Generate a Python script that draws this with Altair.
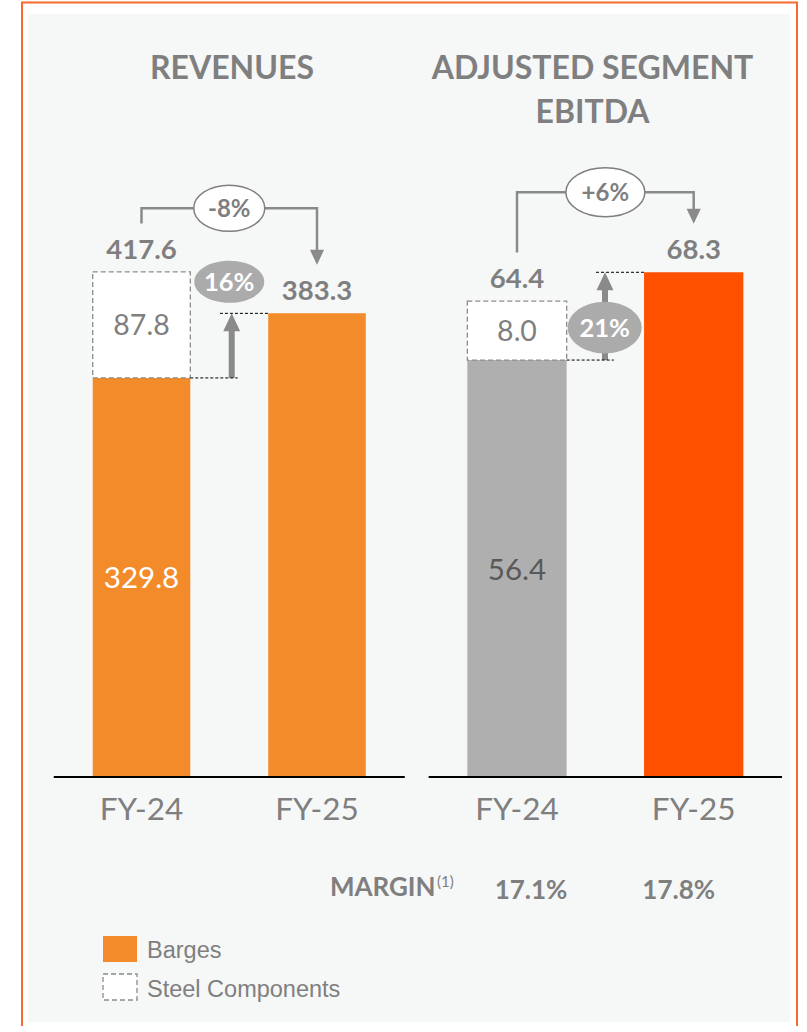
import altair as alt
import pandas as pd

# ---------------- data ----------------
categories = ["FY-24", "FY-25"]
rev_barges = [329.8, 383.3]
rev_steel = [87.8, 0.0]
ebitda_barges = [56.4, 68.3]
ebitda_steel = [8.0, 0.0]
margin_labels = ["17.1%", "17.8%"]
change_labels = ["-8%", "+6%"]            # revenues, EBITDA : FY-24 -> FY-25
barges_growth_labels = ["16%", "21%"]     # revenues, EBITDA : barges growth
panel_titles = ["REVENUES", "ADJUSTED SEGMENT\nEBITDA"]
legend_labels = ["Barges", "Steel Components"]
margin_title = "MARGIN"
margin_note = "(1)"

# ---------------- style ----------------
W, H = 807, 1026
BASE = 776
GREY_TXT = "#7F7F7F"
ARROW = "#8A8A8A"
ORANGE = "#F48B2A"
RED_OR = "#FF5000"
BAR_GREY = "#AFAFAF"
PANEL_BG = "#F6F7F7"
FRAME = "#F7692E"
FONT = "Lato"
LEGEND_FONT = "Liberation Sans"

REV_X0, REV_STEP, REV_PPU, REV_MAX = 141.5, 175.5, 1.207, 500
EB_X0, EB_STEP, EB_PPU, EB_MAX = 517.0, 176.7, 7.375, 80

REV_X = alt.Scale(domain=[0, 1], range=[REV_X0, REV_X0 + REV_STEP], nice=False, zero=False)
REV_Y = alt.Scale(domain=[0, REV_MAX], range=[BASE, BASE - REV_MAX * REV_PPU], nice=False)
EB_X = alt.Scale(domain=[0, 1], range=[EB_X0, EB_X0 + EB_STEP], nice=False, zero=False)
EB_Y = alt.Scale(domain=[0, EB_MAX], range=[BASE, BASE - EB_MAX * EB_PPU], nice=False)


def X(field, sc):
    return alt.X(field, type="quantitative", scale=sc, axis=None)


def Y(field, sc):
    return alt.Y(field, type="quantitative", scale=sc, axis=None)


def ellipse_path(r):
    k = 0.5523
    return (f"M-1,0C-1,{-k*r:.4f},{-k:.4f},{-r:.4f},0,{-r:.4f}"
            f"C{k:.4f},{-r:.4f},1,{-k*r:.4f},1,0"
            f"C1,{k*r:.4f},{k:.4f},{r:.4f},0,{r:.4f}"
            f"C{-k:.4f},{r:.4f},-1,{k*r:.4f},-1,0Z")


HEAD_UP = "M0,-1L0.94,1L-0.94,1Z"
HEAD_DOWN = "M0,1L0.94,-1L-0.94,-1Z"


def build_panel(p):
    xs, ys, ppu, hw = p["xs"], p["ys"], p["ppu"], p["hw"]

    def d(px):
        return px / ppu

    n = len(categories)
    barges, steel = p["barges"], p["steel"]
    totals = [b + s for b, s in zip(barges, steel)]
    df = pd.DataFrame({
        "cat": categories, "idx": list(range(n)), "barges": barges,
        "steel": steel, "total": totals, "color": p["colors"], "zero": [0.0] * n,
    })
    df["lo"] = df["idx"] - hw
    df["hi"] = df["idx"] + hw
    df["steel_mid"] = df["barges"] + df["steel"] / 2
    df["barges_mid"] = df["barges"] / 2
    df["total_txt"] = df["total"].map(lambda v: f"{v:.1f}")
    df["steel_txt"] = df["steel"].map(lambda v: f"{v:.1f}")
    df["barges_txt"] = df["barges"].map(lambda v: f"{v:.1f}")
    layers = []

    # axis base line
    base = pd.DataFrame({"a": [-0.5], "b": [1.5], "zero": [0.0]})
    layers.append(alt.Chart(base).mark_rule(color="black", strokeWidth=2, yOffset=1).encode(
        x=X("a", xs), x2="b", y=Y("zero", ys)))

    # bars
    layers.append(alt.Chart(df).mark_rect().encode(
        x=X("lo", xs), x2="hi", y=Y("zero", ys), y2="barges",
        fill=alt.Fill("color:N", scale=None)))

    # steel components (dashed box)
    sdf = df[df["steel"] > 0]
    layers.append(alt.Chart(sdf).mark_rect(
        fill="white", stroke="#8C8C8C", strokeDash=[5, 3], strokeWidth=1.3).encode(
        x=X("lo", xs), x2="hi", y=Y("barges", ys), y2="total"))
    layers.append(alt.Chart(sdf).mark_text(
        font=FONT, fontSize=28.5, fontWeight=400, color=GREY_TXT, baseline="alphabetic", dy=10).encode(
        x=X("idx", xs), y=Y("steel_mid", ys), text="steel_txt"))

    # inner label of FY-24 barges bar
    layers.append(alt.Chart(df.iloc[:1]).mark_text(
        font=FONT, fontSize=29.5, fontWeight=p["inner_weight"], color=p["inner_color"],
        baseline="alphabetic", dy=11.5).encode(
        x=X("idx", xs), y=Y("barges_mid", ys), text="barges_txt"))

    # totals
    layers.append(alt.Chart(df).mark_text(
        font=FONT, fontSize=27.5, fontWeight="bold", color=GREY_TXT, baseline="alphabetic", dy=-13).encode(
        x=X("idx", xs), y=Y("total", ys), text="total_txt"))

    # category labels
    layers.append(alt.Chart(df).mark_text(
        font=FONT, fontSize=31.5, fontWeight=400, color=GREY_TXT, baseline="alphabetic", dy=44).encode(
        x=X("idx", xs), y=Y("zero", ys), text="cat"))

    # bracket with change
    t0, t1 = totals[0], totals[1]
    top = max(totals) + d(p["level_off"])
    br = pd.DataFrame({"x": [0, 0, 1, 1],
                       "y": [t0 + d(48.5), top, top, t1 + d(48.5 + 14)],
                       "o": [0, 1, 2, 3]})
    layers.append(alt.Chart(br).mark_line(stroke=ARROW, strokeWidth=2.5, strokeJoin="miter").encode(
        x=X("x", xs), y=Y("y", ys), order="o:Q"))
    hd = pd.DataFrame({"x": [1], "y": [t1 + d(48.5 + 7.5)]})
    layers.append(alt.Chart(hd).mark_point(
        shape=HEAD_DOWN, size=15 ** 2, filled=True, fill=ARROW, strokeWidth=0, opacity=1).encode(
        x=X("x", xs), y=Y("y", ys)))
    ce = pd.DataFrame({"x": [0.5], "y": [top], "t": [p["change"]]})
    layers.append(alt.Chart(ce).mark_point(
        shape=ellipse_path(p["change_ratio"]), size=p["change_w"] ** 2, filled=True,
        fill="white", stroke=GREY_TXT, strokeWidth=1.5, opacity=1).encode(
        x=X("x", xs), y=Y("y", ys)))
    layers.append(alt.Chart(ce).mark_text(
        font=FONT, fontSize=24, fontWeight="bold", color=GREY_TXT, baseline="alphabetic", dy=8.5).encode(
        x=X("x", xs), y=Y("y", ys), text="t"))

    # barges growth arrow
    b0, b1 = barges[0], barges[1]
    xa = p["arrow_x"]
    sh = pd.DataFrame({"x": [xa], "y0": [b0], "y1": [b1 - d(17)]})
    layers.append(alt.Chart(sh).mark_rule(stroke=ARROW, strokeWidth=6).encode(
        x=X("x", xs), y=Y("y0", ys), y2="y1"))
    hu = pd.DataFrame({"x": [xa], "y": [b1 - d(9)]})
    layers.append(alt.Chart(hu).mark_point(
        shape=HEAD_UP, size=18 ** 2, filled=True, fill=ARROW, strokeWidth=0, opacity=1).encode(
        x=X("x", xs), y=Y("y", ys)))

    # dotted guides
    gd = pd.DataFrame({"a": [0.447, hw], "b": [1 - hw, 0.548], "y": [b1, b0]})
    layers.append(alt.Chart(gd).mark_rule(color="black", strokeWidth=1, strokeDash=[3, 2]).encode(
        x=X("a", xs), x2="b", y=Y("y", ys)))

    # growth ellipse
    anchor = b1 if p["growth_anchor"] == "b1" else b0
    ge = pd.DataFrame({"x": [p["growth_x"]], "y": [anchor + d(p["growth_off"])], "t": [p["growth"]]})
    layers.append(alt.Chart(ge).mark_point(
        shape=ellipse_path(p["growth_ratio"]), size=p["growth_w"] ** 2, filled=True,
        fill="#ABABAB", strokeWidth=0, opacity=1).encode(
        x=X("x", xs), y=Y("y", ys)))
    layers.append(alt.Chart(ge).mark_text(
        font=FONT, fontSize=25.5, fontWeight="bold", color="white", baseline="alphabetic", dy=9).encode(
        x=X("x", xs), y=Y("y", ys), text="t"))
    return layers


rev_panel = dict(
    barges=rev_barges, steel=rev_steel, colors=[ORANGE, ORANGE], xs=REV_X, ys=REV_Y,
    ppu=REV_PPU, hw=0.278, inner_color="white", inner_weight=400,
    change=change_labels[0], level_off=63.7, change_w=71, change_ratio=0.65,
    growth=barges_growth_labels[0], growth_anchor="b1", growth_off=31.5,
    growth_x=0.5, growth_w=70, growth_ratio=0.6, arrow_x=0.514,
)
eb_panel = dict(
    barges=ebitda_barges, steel=ebitda_steel, colors=[BAR_GREY, RED_OR], xs=EB_X, ys=EB_Y,
    ppu=EB_PPU, hw=0.281, inner_color="#595959", inner_weight=400,
    change=change_labels[1], level_off=80, change_w=79, change_ratio=0.62,
    growth=barges_growth_labels[1], growth_anchor="b0", growth_off=32.5,
    growth_x=0.496, growth_w=74, growth_ratio=0.70, arrow_x=0.498,
)

# ---------------- background / frame ----------------
frame = alt.Chart(pd.DataFrame({"k": [0]})).mark_rect(
    fill="white", stroke=FRAME, strokeWidth=2).encode(
    x=alt.value(22), x2=alt.value(797), y=alt.value(2.5), y2=alt.value(1060))
panel = alt.Chart(pd.DataFrame({"k": [0]})).mark_rect(fill=PANEL_BG).encode(
    x=alt.value(28), x2=alt.value(790), y=alt.value(14), y2=alt.value(1022))

# ---------------- titles ----------------
titles = [
    alt.Chart(pd.DataFrame({"t": [panel_titles[0]]})).mark_text(
        font=FONT, fontSize=32, fontWeight="bold", color=GREY_TXT, baseline="alphabetic").encode(
        x=alt.value(232), y=alt.value(79), text="t"),
    alt.Chart(pd.DataFrame({"t": [panel_titles[1]]})).mark_text(
        font=FONT, fontSize=32, fontWeight="bold", color=GREY_TXT, baseline="alphabetic",
        lineBreak="\n", lineHeight=44).encode(
        x=alt.value(592.5), y=alt.value(79), text="t"),
]

# ---------------- margin row ----------------
margin_df = pd.DataFrame({"idx": [0, 1], "t": margin_labels, "shift": [14, -15]})
margin_df["xm"] = margin_df["idx"] + margin_df["shift"] / EB_STEP
margin_layers = [
    alt.Chart(pd.DataFrame({"t": [margin_title]})).mark_text(
        font=FONT, fontSize=26, fontWeight="bold", color=GREY_TXT, baseline="alphabetic", align="right").encode(
        x=alt.value(435.6), y=alt.value(896), text="t"),
    alt.Chart(pd.DataFrame({"t": [margin_note]})).mark_text(
        font=FONT, fontSize=15, fontWeight=400, color=GREY_TXT, baseline="alphabetic", align="left").encode(
        x=alt.value(437), y=alt.value(887), text="t"),
    alt.Chart(margin_df).mark_text(
        font=FONT, fontSize=26, fontWeight="bold", color=GREY_TXT, baseline="alphabetic").encode(
        x=X("xm", EB_X), y=alt.value(899), text="t"),
]

# ---------------- legend ----------------
legend_layers = [
    alt.Chart(pd.DataFrame({"k": [0]})).mark_rect(fill=ORANGE).encode(
        x=alt.value(103), x2=alt.value(137), y=alt.value(936), y2=alt.value(962)),
    alt.Chart(pd.DataFrame({"k": [0]})).mark_rect(
        fill="white", stroke="#8C8C8C", strokeDash=[5, 3], strokeWidth=1.3).encode(
        x=alt.value(103), x2=alt.value(137), y=alt.value(974), y2=alt.value(1000)),
    alt.Chart(pd.DataFrame({"t": [legend_labels[0]]})).mark_text(
        font=LEGEND_FONT, fontSize=23.5, color=GREY_TXT, baseline="alphabetic", align="left").encode(
        x=alt.value(147), y=alt.value(958), text="t"),
    alt.Chart(pd.DataFrame({"t": [legend_labels[1]]})).mark_text(
        font=LEGEND_FONT, fontSize=23.5, color=GREY_TXT, baseline="alphabetic", align="left").encode(
        x=alt.value(147), y=alt.value(996.5), text="t"),
]

layers = [frame, panel] + titles + build_panel(rev_panel) + build_panel(eb_panel) + margin_layers + legend_layers

chart = alt.layer(*layers).resolve_scale(
    x="independent", y="independent"
).properties(
    width=W, height=H, padding=0, autosize="none", background="white"
).configure_view(stroke=None)

chart.save("out.html", embed_options={"renderer": "svg", "actions": False})
